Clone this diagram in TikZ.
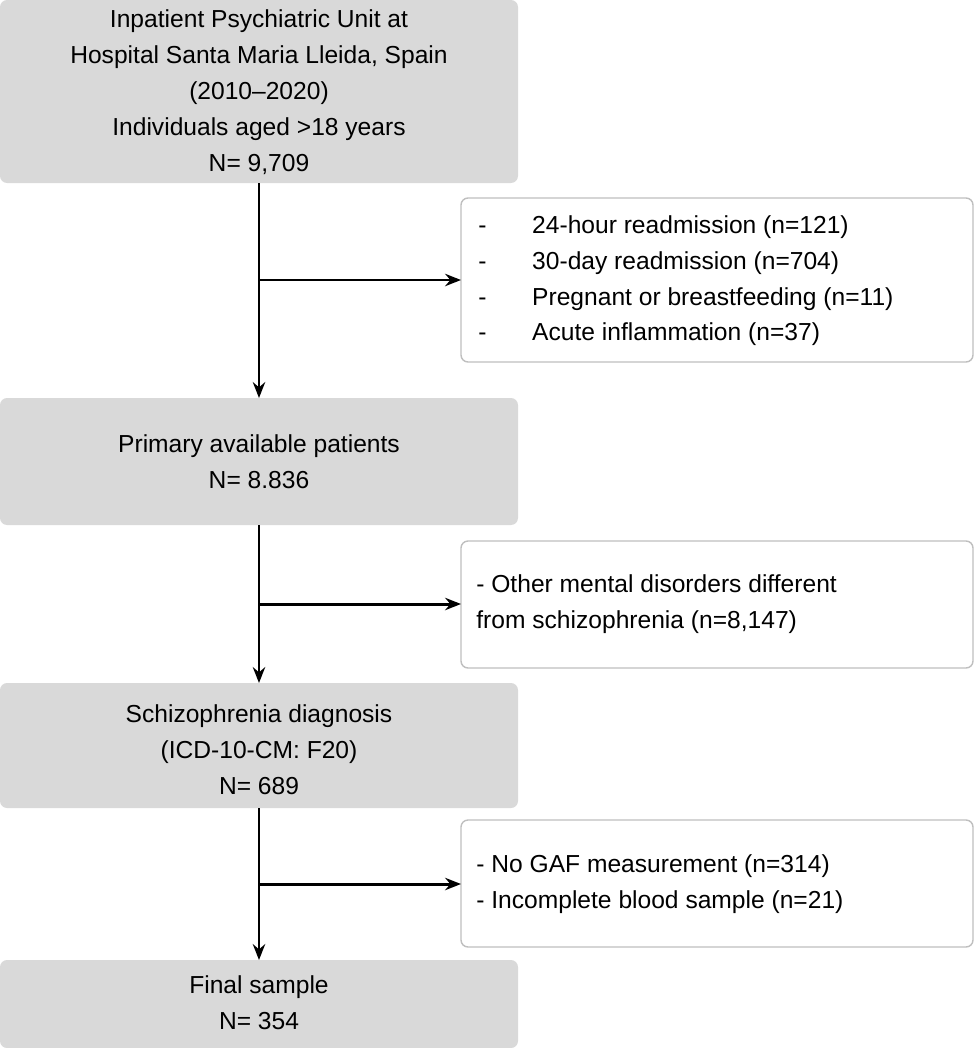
\documentclass[tikz,border=0pt]{standalone}
\usepackage{fontspec}
\setmainfont{Liberation Sans}
\usetikzlibrary{arrows.meta}
\definecolor{boxgray}{HTML}{D9D9D9}
\definecolor{edgegray}{HTML}{BFBFBF}
\begin{document}
\begin{tikzpicture}[x=0.02cm,y=-0.02cm,
  gbox/.style={fill=boxgray,draw=none,rounded corners=4pt},
  wbox/.style={fill=white,draw=edgegray,line width=0.8pt,rounded corners=4pt},
  txt/.style={align=center,font=\fontsize{14}{20.4}\selectfont,inner sep=0pt},
  ltxt/.style={align=left,anchor=west,font=\fontsize{14}{20.4}\selectfont,inner sep=0pt},
  arr/.style={line width=1.7pt,-{Stealth[length=9pt,width=7pt]}}]
\useasboundingbox (0,0) rectangle (975,1048);
\draw[gbox] (0,0) rectangle (518,183);
\node[txt] (b1) at (259,92) {Inpatient Psychiatric Unit at\\Hospital Santa Maria Lleida, Spain\\(2010–2020)\\Individuals aged >18 years\\N= 9,709};
\draw[gbox] (0,398) rectangle (518,525);
\node[txt] (b2) at (259,462) {Primary available patients\\N= 8.836};
\draw[gbox] (0,683) rectangle (518,808);
\node[txt] (b3) at (259,750) {Schizophrenia diagnosis\\(ICD-10-CM: F20)\\N= 689};
\draw[gbox] (0,960) rectangle (518,1048);
\node[txt] (b4) at (259,1003) {Final sample\\N= 354};
\draw[wbox] (461,198) rectangle (973,362);
\node[ltxt] (r1) at (478,280) {\begin{tabular}{@{}l@{\hspace{26pt}}l@{}}
-&24-hour readmission (n=121)\\
-&30-day readmission (n=704)\\
-&Pregnant or breastfeeding (n=11)\\
-&Acute inflammation (n=37)\end{tabular}};
\draw[wbox] (461,541) rectangle (973,668);
\node[ltxt] (r2) at (476,604) {- Other mental disorders different\\from schizophrenia (n=8,147)};
\draw[wbox] (461,820) rectangle (973,947);
\node[ltxt] (r3) at (476,884) {- No GAF measurement (n=314)\\- Incomplete blood sample (n=21)};
\coordinate (t1) at (259,183); \coordinate (e1) at (259,398);
\coordinate (t2) at (259,525); \coordinate (e2) at (259,683);
\coordinate (t3) at (259,808); \coordinate (e3) at (259,960);
\coordinate (j1) at (259,280); \coordinate (k1) at (461,280);
\coordinate (j2) at (259,604); \coordinate (k2) at (461,604);
\coordinate (j3) at (259,884); \coordinate (k3) at (461,884);
\draw[arr] (t1) -- (e1); \draw[arr] (j1) -- (k1);
\draw[arr] (t2) -- (e2); \draw[arr] (j2) -- (k2);
\draw[arr] (t3) -- (e3); \draw[arr] (j3) -- (k3);
\end{tikzpicture}
\end{document}
